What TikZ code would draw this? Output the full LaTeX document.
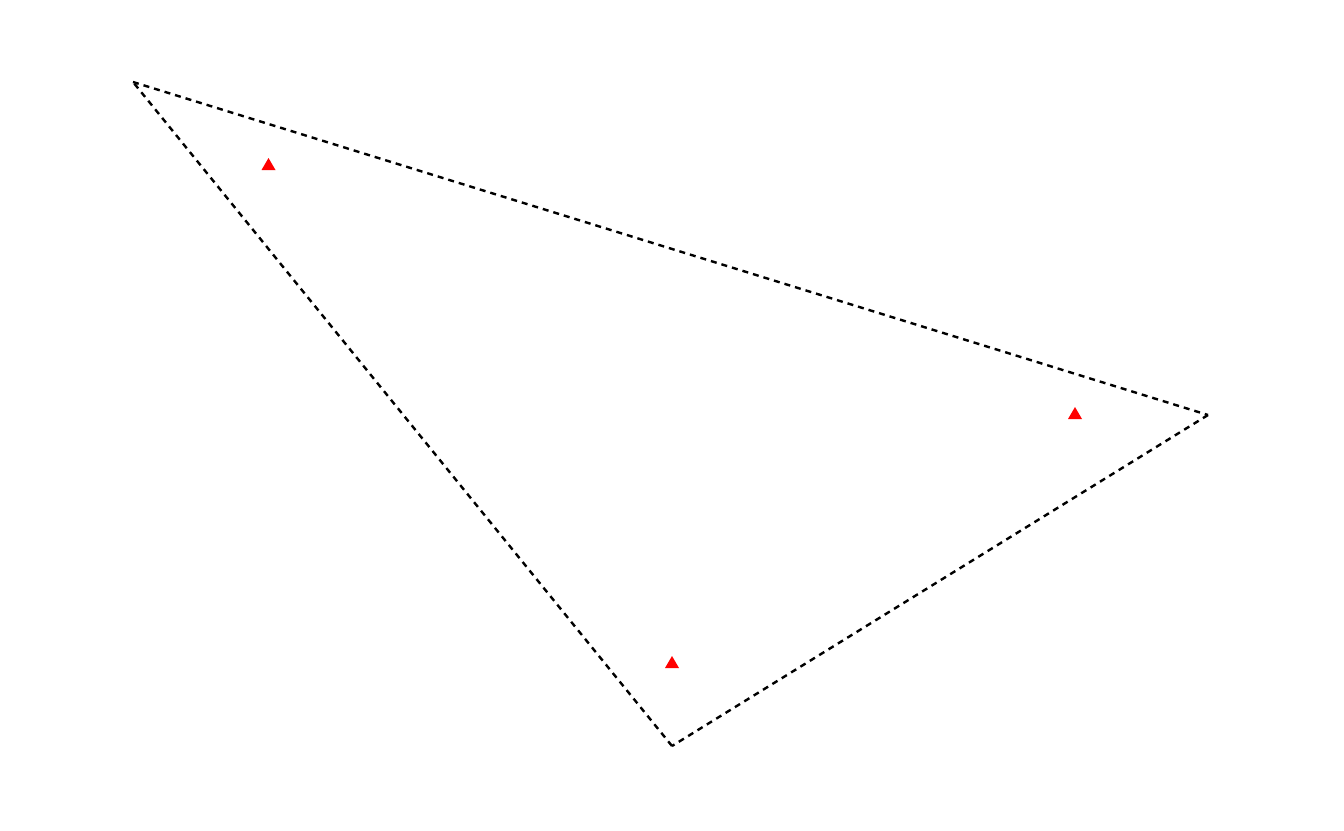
\documentclass[tikz,border=0pt]{standalone}
\begin{document}
\begin{tikzpicture}[x=1pt,y=-1pt,
  edge/.style={draw=black,line width=2.4pt,dash pattern=on 6pt off 5pt},
  marker/.style={fill=red}]
\useasboundingbox (0,0) rectangle (1344,830);
\coordinate (A) at (133,82);
\coordinate (B) at (1208,415);
\coordinate (C) at (672,746);
\coordinate (m1) at (268.5,164);
\coordinate (m2) at (1075,413);
\coordinate (m3) at (672,662);
\draw[edge] (A) -- (B);
\draw[edge] (B) -- (C);
\draw[edge] (C) -- (A);
\foreach \m in {m1,m2,m3}{
  \fill[marker] (\m) ++(-7,6) -- ++(14,0) -- ++(-7,-12) -- cycle;
}
\end{tikzpicture}
\end{document}
